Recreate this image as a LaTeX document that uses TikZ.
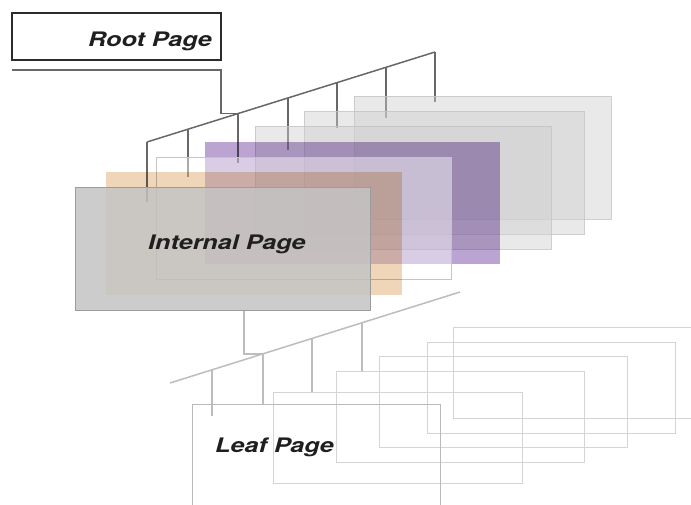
\documentclass[tikz,border=0pt]{standalone}
\usepackage{fontspec}
\setmainfont{TeX Gyre Heros}
\newfontfamily\pagefont[FakeStretch=1.26]{TeX Gyre Heros}
\usetikzlibrary{calc}
\pgfdeclarelayer{paper}
\pgfdeclarelayer{links}
\pgfsetlayers{paper,links,main}

\definecolor{linkdark}{HTML}{676767}
\definecolor{linklight}{HTML}{BDBDBD}
\definecolor{rootframe}{HTML}{2B2B2B}
\definecolor{pagegray}{HTML}{CFCFCF}
\definecolor{pageedge}{HTML}{C4C4C4}
\definecolor{purplepage}{HTML}{BBA4D2}
\definecolor{peachpage}{HTML}{EFD6B9}
\definecolor{frontgray}{HTML}{C4C4C4}
\definecolor{frontedge}{HTML}{9C9C9C}
\definecolor{leafedge}{HTML}{D4D4D4}
\definecolor{leaffront}{HTML}{B9B9B9}

\begin{document}
\begin{tikzpicture}[x=1pt,y=-1pt,
  page/.style={inner sep=0pt, outer sep=0pt, anchor=north west, line width=0.9pt},
  graypage/.style={page, draw=pageedge, fill=pagegray, fill opacity=0.45, draw opacity=0.8},
  leafpage/.style={page, draw=leafedge, line width=1pt},
  pagelabel/.style={font=\pagefont\fontsize{20}{20}\selectfont\bfseries\itshape,
    text=black!88, anchor=base west, inner sep=0pt},
  darklink/.style={draw=linkdark, line width=1.5pt},
  lightlink/.style={draw=linklight, line width=1.5pt}]

\useasboundingbox (0,0) rectangle (691,504);
\clip (0,0) rectangle (691,504);
\begin{pgfonlayer}{paper}
  \fill[white] (0,0) rectangle (691,504);
\end{pgfonlayer}

% root page
\node[page, draw=rootframe, line width=1.4pt, minimum width=209pt, minimum height=47pt]
  (root) at (12,13) {};
\node[pagelabel] (rootlabel) at (88,46) {Root Page};

% internal pages, back to front
\node[graypage, minimum width=257pt, minimum height=123pt] (ip1) at (354,96) {};
\node[graypage, minimum width=280pt, minimum height=123pt] (ip2) at (304,111) {};
\node[graypage, minimum width=296pt, minimum height=123pt] (ip3) at (255,126) {};
\node[page, fill=purplepage, blend mode=multiply, minimum width=295pt, minimum height=122pt]
  (ip4) at (205,142) {};
\node[page, draw=pageedge, fill=white, fill opacity=0.45, minimum width=295pt, minimum height=122pt]
  (ip5) at (156,157) {};
\node[page, fill=peachpage, blend mode=multiply, minimum width=296pt, minimum height=123pt]
  (ip6) at (106,172) {};
\node[page, draw=frontedge, fill=frontgray, fill opacity=0.85, minimum width=295pt, minimum height=123pt]
  (ip7) at (75,187) {};
\node[pagelabel] (iplabel) at (148,249) {Internal Page};

% leaf pages, back to front
\node[leafpage, minimum width=248pt, minimum height=91pt] (lp6) at (453,327) {};
\node[leafpage, minimum width=248pt, minimum height=91pt] (lp5) at (427,342) {};
\node[leafpage, minimum width=248pt, minimum height=91pt] (lp4) at (379,356) {};
\node[leafpage, minimum width=248pt, minimum height=91pt] (lp3) at (336,371) {};
\node[leafpage, minimum width=249pt, minimum height=91pt] (lp2) at (273,392) {};
\node[leafpage, draw=leaffront, minimum width=248pt, minimum height=130pt] (lp1) at (192,404) {};
\node[pagelabel] (lplabel) at (215,452) {Leaf Page};

\begin{pgfonlayer}{links}
  % pointer bus of the root page
  \coordinate (busA) at (147,142);
  \coordinate (busB) at (435,52);
  \draw[darklink] (busA) -- (busB);
  \coordinate (d1) at (busA);
  \coordinate (d2) at ($(busA)!0.1424!(busB)$);
  \coordinate (d3) at ($(busA)!0.316!(busB)$);
  \coordinate (d4) at ($(busA)!0.4896!(busB)$);
  \coordinate (d5) at ($(busA)!0.6597!(busB)$);
  \coordinate (d6) at ($(busA)!0.8299!(busB)$);
  \coordinate (d7) at (busB);
  \draw[darklink] (d1) -- ($(d1 |- ip7.north)+(0,15)$);
  \draw[darklink] (d2) -- ($(d2 |- ip6.north)+(0,5)$);
  \draw[darklink] (d3) -- ($(d3 |- ip5.north)+(0,6)$);
  \draw[darklink] (d4) -- ($(d4 |- ip4.north)+(0,8)$);
  \draw[darklink] (d5) -- ($(d5 |- ip3.north)+(0,2)$);
  \draw[darklink] (d6) -- ($(d6 |- ip2.north)+(0,7)$);
  \draw[darklink] (d7) -- ($(d7 |- ip1.north)+(0,6)$);
  \draw[darklink] ($(root.south west)+(0,10)$) -- ($(root.south east)+(0,10)$) |- (d3);

  % pointer bus of the internal page
  \coordinate (lbA) at (170,383);
  \coordinate (lbB) at (460,292);
  \draw[lightlink] (lbA) -- (lbB);
  \coordinate (e1) at ($(lbA)!0.1448!(lbB)$);
  \coordinate (e2) at ($(lbA)!0.3207!(lbB)$);
  \coordinate (e3) at ($(lbA)!0.4897!(lbB)$);
  \coordinate (e4) at ($(lbA)!0.662!(lbB)$);
  \draw[lightlink] (e1) -- ($(e1 |- lp1.north)+(0,12)$);
  \draw[lightlink] (e2) -- (e2 |- lp1.north);
  \draw[lightlink] (e3) -- (e3 |- lp2.north);
  \draw[lightlink] (e4) -- (e4 |- lp3.north);
  \draw[lightlink] ($(ip7.south west)+(169,0)$) |- (e2);
\end{pgfonlayer}
\end{tikzpicture}
\end{document}
